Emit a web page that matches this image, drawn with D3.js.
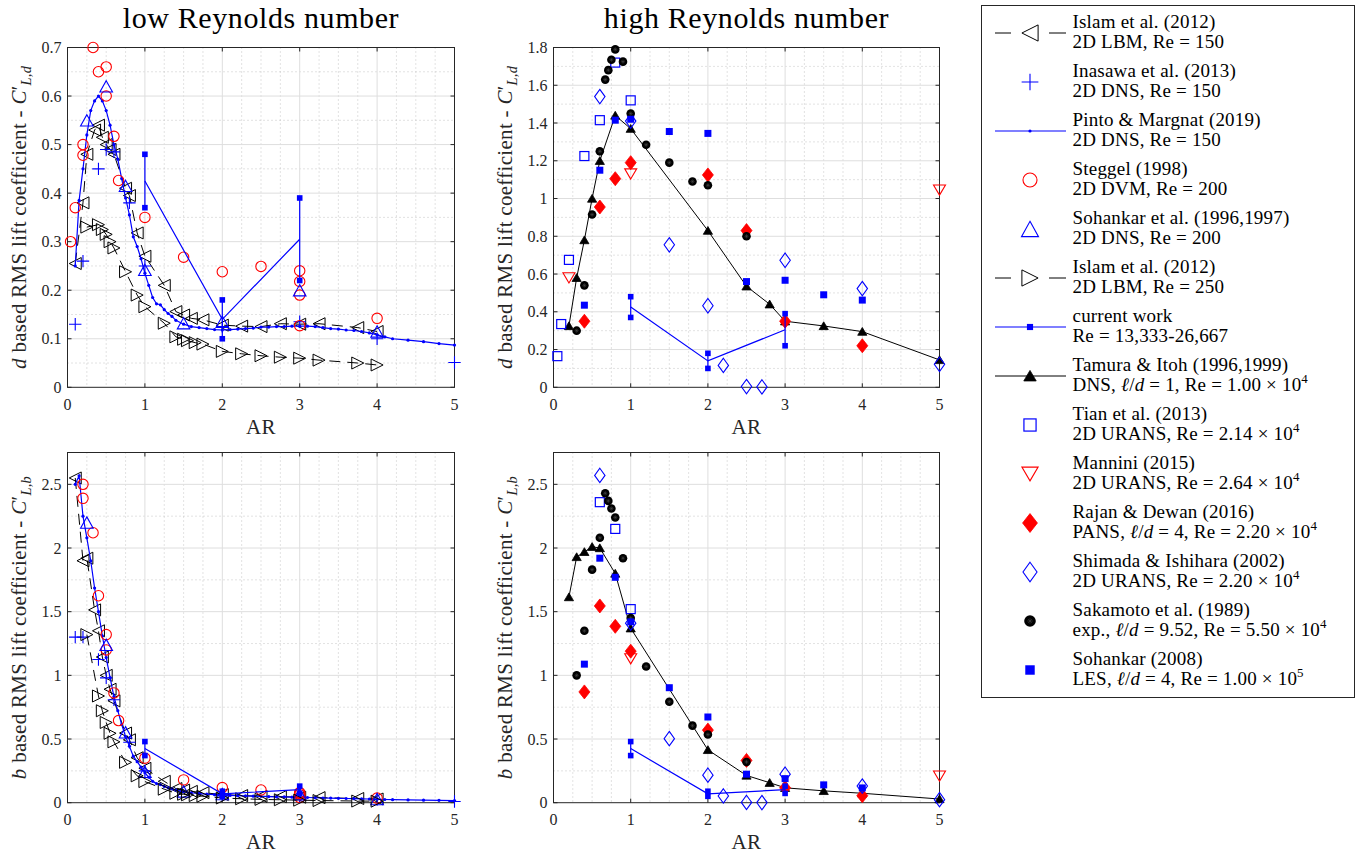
<!DOCTYPE html>
<meta charset="utf-8">
<style>
body { margin: 0; background: #fff; }
svg { font-family: "Liberation Serif", "Times New Roman", serif; }
.grid-major { stroke: #dedede; stroke-width: 1; }
.grid-minor { stroke: #b8b8b8; stroke-width: 0.8; stroke-dasharray: 1,3; }
.frame { fill: none; stroke: #262626; stroke-width: 1; }
.tick { stroke: #262626; stroke-width: 1; }
.tick-label { font-size: 16px; fill: #262626; }
.axis-label { font-size: 21px; fill: #262626; letter-spacing: 0.3px; }
.title { font-size: 30px; fill: #000; letter-spacing: 0.6px; }
.legend-text { font-size: 19px; fill: #000; letter-spacing: 0.2px; }
</style>
<body>
<svg id="chart" width="1356" height="853"></svg>

<script src="https://d3js.org/d3.v7.min.js"></script>
<script>

// ---------- low Reynolds number data (AR, C'L,d, C'L,b) ----------
var islam150AR = [0.1, 0.2, 0.25, 0.35, 0.4, 0.45, 0.5, 0.55, 0.6, 0.75, 0.8, 0.9, 1.0, 1.25, 1.4, 1.5, 1.6, 1.75, 2.0, 2.25, 2.5, 2.75, 3.0, 3.25, 3.75, 4.0];
var islam150D  = [0.255, 0.38, 0.48, 0.53, 0.54, 0.515, 0.5, 0.49, 0.48, 0.41, 0.395, 0.318, 0.27, 0.21, 0.156, 0.149, 0.142, 0.139, 0.128, 0.126, 0.125, 0.131, 0.13, 0.131, 0.123, 0.115];
var islam150B  = [2.55, 1.9, 1.92, 1.514, 1.35, 1.144, 1.0, 0.891, 0.8, 0.547, 0.494, 0.353, 0.27, 0.168, 0.111, 0.099, 0.089, 0.079, 0.064, 0.056, 0.05, 0.048, 0.043, 0.04, 0.033, 0.029];

var inasawaAR = [0.1, 0.2, 0.4, 0.5, 0.6, 0.8, 1, 2, 3, 4, 5];
var inasawaD  = [0.13, 0.26, 0.45, 0.49, 0.485, 0.38, 0.25, 0.125, 0.135, 0.1, 0.051];
var inasawaB  = [1.3, 1.3, 1.125, 0.98, 0.808, 0.475, 0.25, 0.063, 0.045, 0.025, 0.01];

var pintoAR = [0.1, 0.15, 0.2, 0.25, 0.3, 0.35, 0.4, 0.45, 0.5, 0.55, 0.6, 0.65, 0.7, 0.75, 0.8, 0.85, 0.9, 0.95, 1.0, 1.05, 1.1, 1.15, 1.2, 1.25, 1.3, 1.35, 1.4, 1.5, 1.6, 1.7, 1.8, 1.9, 2.0, 2.1, 2.2, 2.3, 2.4, 2.5, 2.6, 2.7, 2.8, 2.9, 3.0, 3.1, 3.2, 3.3, 3.4, 3.5, 3.6, 3.7, 3.8, 3.9, 4.0, 4.1, 4.2, 4.4, 4.6, 4.8, 5.0];
var pintoD  = [0.25, 0.385, 0.45, 0.52, 0.57, 0.59, 0.6, 0.59, 0.57, 0.54, 0.5, 0.47, 0.43, 0.39, 0.355, 0.31, 0.29, 0.265, 0.235, 0.21, 0.185, 0.172, 0.17, 0.16, 0.152, 0.146, 0.138, 0.13, 0.125, 0.123, 0.121, 0.119, 0.118, 0.119, 0.12, 0.121, 0.122, 0.124, 0.124, 0.125, 0.125, 0.126, 0.126, 0.126, 0.125, 0.123, 0.121, 0.12, 0.118, 0.117, 0.115, 0.112, 0.108, 0.104, 0.1, 0.097, 0.094, 0.09, 0.087];
var pintoB  = [2.5, 2.567, 2.25, 2.08, 1.9, 1.686, 1.5, 1.311, 1.14, 0.982, 0.833, 0.723, 0.614, 0.52, 0.444, 0.365, 0.322, 0.279, 0.235, 0.2, 0.168, 0.15, 0.142, 0.128, 0.117, 0.108, 0.099, 0.087, 0.078, 0.072, 0.067, 0.063, 0.059, 0.057, 0.055, 0.053, 0.051, 0.05, 0.048, 0.046, 0.045, 0.043, 0.042, 0.041, 0.039, 0.037, 0.036, 0.034, 0.033, 0.032, 0.03, 0.029, 0.027, 0.025, 0.024, 0.022, 0.02, 0.019, 0.017];

var steggelAR = [0.04, 0.1, 0.2, 0.2, 0.33, 0.4, 0.5, 0.5, 0.6, 0.66, 1, 1.5, 2, 2.5, 3, 3, 3, 3, 4];
var steggelD  = [0.3, 0.37, 0.478, 0.5, 0.7, 0.65, 0.66, 0.6, 0.517, 0.426, 0.35, 0.268, 0.238, 0.249, 0.24, 0.218, 0.19, 0.127, 0.142];
var steggelB  = [7.5, 3.7, 2.39, 2.5, 2.12, 1.625, 1.32, 1.2, 0.862, 0.645, 0.35, 0.179, 0.119, 0.1, 0.08, 0.073, 0.063, 0.042, 0.036];

var sohankar96AR = [0.25, 0.5, 0.75, 1, 1.5, 2, 3, 4];
var sohankar96D  = [0.55, 0.62, 0.415, 0.242, 0.132, 0.135, 0.2, 0.115];
var sohankar96B  = [2.2, 1.24, 0.553, 0.242, 0.088, 0.068, 0.067, 0.029];

var islam250AR = [0.25, 0.4, 0.45, 0.5, 0.55, 0.6, 0.75, 0.9, 1.0, 1.25, 1.4, 1.5, 1.55, 1.65, 1.75, 2.0, 2.25, 2.5, 2.75, 3.0, 3.25, 3.75, 4.0];
var islam250D  = [0.33, 0.335, 0.325, 0.315, 0.3, 0.287, 0.238, 0.19, 0.166, 0.132, 0.104, 0.099, 0.096, 0.092, 0.089, 0.074, 0.069, 0.065, 0.062, 0.06, 0.056, 0.05, 0.046];
var islam250B  = [1.32, 0.838, 0.722, 0.63, 0.545, 0.478, 0.317, 0.211, 0.166, 0.106, 0.074, 0.066, 0.062, 0.056, 0.051, 0.037, 0.031, 0.026, 0.023, 0.02, 0.017, 0.013, 0.012];

// current work: mean with min/max range
var currentAR  = [1, 2, 3];
var currentD   = [0.425, 0.14, 0.305];
var currentDlo = [0.37, 0.1, 0.22];
var currentDhi = [0.48, 0.18, 0.39];
var currentB   = [0.425, 0.07, 0.102];
var currentBlo = [0.37, 0.05, 0.073];
var currentBhi = [0.48, 0.09, 0.13];

// ---------- high Reynolds number data ----------
var tamuraAR = [0.2, 0.3, 0.4, 0.5, 0.6, 0.8, 1.0, 2.0, 2.5, 2.8, 3.0, 3.5, 4.0, 5.0];
var tamuraD  = [0.325, 0.58, 0.78, 1.0, 1.2, 1.44, 1.37, 0.83, 0.535, 0.44, 0.35, 0.325, 0.295, 0.145];
var tamuraB  = [1.615, 1.93, 1.97, 2.01, 2.0, 1.8, 1.37, 0.415, 0.214, 0.157, 0.117, 0.093, 0.074, 0.029];

var tianAR = [0.05, 0.1, 0.2, 0.4, 0.6, 0.8, 1.0];
var tianD  = [0.165, 0.335, 0.675, 1.225, 1.415, 1.72, 1.52];
var tianB  = [3.3, 3.35, 3.375, 3.06, 2.36, 2.15, 1.52];

var manniniAR = [0.2, 1.0, 5.0];
var manniniD  = [0.58, 1.13, 1.045];
var manniniB  = [2.9, 1.13, 0.209];

var rajanAR = [0.4, 0.6, 0.8, 1.0, 2.0, 2.5, 3.0, 4.0];
var rajanD  = [0.35, 0.955, 1.105, 1.19, 1.125, 0.83, 0.35, 0.22];
var rajanB  = [0.87, 1.545, 1.385, 1.19, 0.57, 0.332, 0.117, 0.055];

var shimadaAR = [0.6, 1.0, 1.5, 2.0, 2.2, 2.5, 2.7, 3.0, 4.0, 5.0];
var shimadaD  = [1.54, 1.41, 0.755, 0.432, 0.116, 0.004, 0.002, 0.673, 0.523, 0.122];
var shimadaB  = [2.57, 1.41, 0.503, 0.216, 0.053, 0.002, 0.001, 0.224, 0.131, 0.024];

var sakamotoAR = [0.3, 0.4, 0.5, 0.6, 0.67, 0.71, 0.75, 0.8, 0.9, 1.0, 1.2, 1.5, 1.8, 2.0, 2.5];
var sakamotoD  = [0.3, 0.54, 0.915, 1.25, 1.63, 1.68, 1.735, 1.79, 1.725, 1.45, 1.285, 1.19, 1.09, 1.07, 0.8];
var sakamotoB  = [1.0, 1.35, 1.83, 2.08, 2.43, 2.37, 2.31, 2.24, 1.92, 1.45, 1.07, 0.793, 0.605, 0.535, 0.32];

var sohankar08AR = [0.4, 0.6, 0.8, 1.0, 1.5, 2.0, 2.5, 3.0, 3.5, 4.0];
var sohankar08D  = [0.435, 1.15, 1.415, 1.42, 1.355, 1.345, 0.56, 0.567, 0.49, 0.462];
var sohankar08B  = [1.088, 1.92, 1.77, 1.42, 0.903, 0.673, 0.224, 0.189, 0.14, 0.116];

// ---------- legend text ----------
var legendTitles = [
  "Islam et al. (2012)", "Inasawa et al. (2013)", "Pinto & Margnat (2019)", "Steggel (1998)",
  "Sohankar et al. (1996,1997)", "Islam et al. (2012)", "current work", "Tamura & Itoh (1996,1999)",
  "Tian et al. (2013)", "Mannini (2015)", "Rajan & Dewan (2016)", "Shimada & Ishihara (2002)",
  "Sakamoto et al. (1989)", "Sohankar (2008)"
];
var legendDetails = [
  "2D LBM, Re = 150", "2D DNS, Re = 150", "2D DNS, Re = 150", "2D DVM, Re = 200",
  "2D DNS, Re = 200", "2D LBM, Re = 250", "Re = 13,333-26,667",
  "DNS, *ℓ*/*d* = 1, Re = 1.00 × 10^4^", "2D URANS, Re = 2.14 × 10^4^", "2D URANS, Re = 2.64 × 10^4^",
  "PANS, *ℓ*/*d* = 4, Re = 2.20 × 10^4^", "2D URANS, Re = 2.20 × 10^4^",
  "exp., *ℓ*/*d* = 9.52, Re = 5.50 × 10^4^", "LES, *ℓ*/*d* = 4, Re = 1.00 × 10^5^"
];

// ---------- series styles ----------
var lowSeries = [
  {ar: islam150AR, d: islam150D, b: islam150B, color: "#000", line: "dash", marker: "ltri"},
  {ar: inasawaAR, d: inasawaD, b: inasawaB, color: "#00f", line: null, marker: "plus"},
  {ar: pintoAR, d: pintoD, b: pintoB, color: "#00f", line: "solid", marker: "dot"},
  {ar: steggelAR, d: steggelD, b: steggelB, color: "#f00", line: null, marker: "circle"},
  {ar: sohankar96AR, d: sohankar96D, b: sohankar96B, color: "#00f", line: null, marker: "utri"},
  {ar: islam250AR, d: islam250D, b: islam250B, color: "#000", line: "dash", marker: "rtri"}
];
var highSeries = [
  {ar: tamuraAR, d: tamuraD, b: tamuraB, color: "#000", line: "solid", marker: "ftri"},
  {ar: tianAR, d: tianD, b: tianB, color: "#00f", line: null, marker: "osq"},
  {ar: manniniAR, d: manniniD, b: manniniB, color: "#f00", line: null, marker: "dtri"},
  {ar: rajanAR, d: rajanD, b: rajanB, color: "#f00", line: null, marker: "fdia"},
  {ar: shimadaAR, d: shimadaD, b: shimadaB, color: "#00f", line: null, marker: "odia"},
  {ar: sakamotoAR, d: sakamotoD, b: sakamotoB, color: "#000", line: null, marker: "saka"},
  {ar: sohankar08AR, d: sohankar08D, b: sohankar08B, color: "#00f", line: null, marker: "fsq"}
];
var current = {ar: currentAR, d: currentD, dlo: currentDlo, dhi: currentDhi, b: currentB, blo: currentBlo, bhi: currentBhi};

var legendStyles = [
  {color: "#000", line: "dash", marker: "ltri"},
  {color: "#00f", line: null, marker: "plus"},
  {color: "#00f", line: "solid", marker: "dot"},
  {color: "#f00", line: null, marker: "circle"},
  {color: "#00f", line: null, marker: "utri"},
  {color: "#000", line: "dash", marker: "rtri"},
  {color: "#00f", line: "solid", marker: "csq"},
  {color: "#000", line: "solid", marker: "ftri"},
  {color: "#00f", line: null, marker: "osq"},
  {color: "#f00", line: null, marker: "dtri"},
  {color: "#f00", line: null, marker: "fdia"},
  {color: "#00f", line: null, marker: "odia"},
  {color: "#000", line: null, marker: "saka"},
  {color: "#00f", line: null, marker: "fsq"}
];

var panels = [
  {key: "d", series: lowSeries, left: 67.5, right: 454.5, top: 47.5, bottom: 387.3, ymax: 0.7, ystep: 0.1, title: "low Reynolds number"},
  {key: "d", series: highSeries, left: 553.5, right: 939.5, top: 47.5, bottom: 387.3, ymax: 1.8, ystep: 0.2, title: "high Reynolds number"},
  {key: "b", series: lowSeries, left: 67.5, right: 454.5, top: 452.5, bottom: 802.7, ymax: 2.75, ystep: 0.5},
  {key: "b", series: highSeries, left: 553.5, right: 939.5, top: 452.5, bottom: 802.7, ymax: 2.75, ystep: 0.5}
];

var svg = d3.select("#chart");

function poly(pts) {
  return "M" + pts.map(function(p) { return p[0] + "," + p[1]; }).join("L") + "Z";
}

function drawMarker(g, type, color, x, y, k) {
  var s;
  switch (type) {
    case "ltri":
      s = 6 * k;
      g.append("path").attr("d", poly([[x - s, y], [x + s, y - s], [x + s, y + s]]))
        .attr("fill", "none").attr("stroke", color).attr("stroke-width", 1);
      break;
    case "rtri":
      s = 6 * k;
      g.append("path").attr("d", poly([[x + s, y], [x - s, y - s], [x - s, y + s]]))
        .attr("fill", "none").attr("stroke", color).attr("stroke-width", 1);
      break;
    case "utri":
      s = 6.3 * k;
      g.append("path").attr("d", poly([[x, y - s * 0.9], [x + s, y + s * 0.9], [x - s, y + s * 0.9]]))
        .attr("fill", "none").attr("stroke", color).attr("stroke-width", 1.1);
      break;
    case "dtri":
      s = 6 * k;
      g.append("path").attr("d", poly([[x, y + s * 0.85], [x + s, y - s * 0.85], [x - s, y - s * 0.85]]))
        .attr("fill", "none").attr("stroke", color).attr("stroke-width", 1.1);
      break;
    case "ftri":
      s = 4.6 * k;
      g.append("path").attr("d", poly([[x, y - s * 0.9], [x + s, y + s * 0.8], [x - s, y + s * 0.8]]))
        .attr("fill", color).attr("stroke", color).attr("stroke-width", 0.8);
      break;
    case "plus":
      s = 6.2 * k;
      g.append("path").attr("d", "M" + (x - s) + "," + y + "H" + (x + s) + "M" + x + "," + (y - s) + "V" + (y + s))
        .attr("fill", "none").attr("stroke", color).attr("stroke-width", 1.1);
      break;
    case "dot":
      g.append("circle").attr("cx", x).attr("cy", y).attr("r", 1.6 * k).attr("fill", color);
      break;
    case "circle":
      g.append("circle").attr("cx", x).attr("cy", y).attr("r", 5.2 * k)
        .attr("fill", "none").attr("stroke", color).attr("stroke-width", 1.1);
      break;
    case "osq":
      s = 4.5 * k;
      g.append("rect").attr("x", x - s).attr("y", y - s).attr("width", 2 * s).attr("height", 2 * s)
        .attr("fill", "none").attr("stroke", color).attr("stroke-width", 1.2);
      break;
    case "fsq":
      s = 3.5 * k;
      g.append("rect").attr("x", x - s).attr("y", y - s).attr("width", 2 * s).attr("height", 2 * s)
        .attr("fill", color);
      break;
    case "csq":
      s = 2.8 * k;
      g.append("rect").attr("x", x - s).attr("y", y - s).attr("width", 2 * s).attr("height", 2 * s)
        .attr("fill", color);
      break;
    case "fdia":
      g.append("path").attr("d", poly([[x, y - 7 * k], [x + 5.5 * k, y], [x, y + 7 * k], [x - 5.5 * k, y]]))
        .attr("fill", color).attr("stroke", color).attr("stroke-width", 0.8);
      break;
    case "odia":
      g.append("path").attr("d", poly([[x, y - 7.2 * k], [x + 5.2 * k, y], [x, y + 7.2 * k], [x - 5.2 * k, y]]))
        .attr("fill", "none").attr("stroke", color).attr("stroke-width", 1.1);
      break;
    case "saka":
      s = 4.3 * k;
      g.append("circle").attr("cx", x).attr("cy", y).attr("r", s).attr("fill", "#000");
      var a = s * 0.5;
      g.append("path")
        .attr("d", "M" + (x - a) + "," + y + "H" + (x + a) + "M" + x + "," + (y - a) + "V" + (y + a) +
          "M" + (x - a * 0.7) + "," + (y - a * 0.7) + "L" + (x + a * 0.7) + "," + (y + a * 0.7) +
          "M" + (x - a * 0.7) + "," + (y + a * 0.7) + "L" + (x + a * 0.7) + "," + (y - a * 0.7))
        .attr("stroke", "#4a4a4a").attr("stroke-width", 0.5);
      break;
  }
}

// text with *italic*, ^superscript^ and _subscript_ markup; fs = font size in px
function richText(sel, str, fs) {
  var parts = str.split(/(\*[^*]+\*|\^[^^]+\^|_[^_]+_)/);
  var shift = 0;
  parts.forEach(function(p) {
    if (!p) return;
    var target = 0, txt = p, small = false, ital = false;
    if (p[0] === "*") { ital = true; txt = p.slice(1, -1); }
    else if (p[0] === "^") { target = -0.42; small = true; txt = p.slice(1, -1); }
    else if (p[0] === "_") { target = 0.28; small = true; ital = true; txt = p.slice(1, -1); }
    var t = sel.append("tspan").text(txt);
    if (target !== shift) t.attr("dy", ((target - shift) * fs) + "px");
    shift = target;
    if (small) t.style("font-size", (fs * 0.68) + "px");
    if (ital) t.style("font-style", "italic");
  });
}

function fmt(v) { return String(+v.toFixed(2)); }

panels.forEach(function(p, pi) {
  var x = d3.scaleLinear().domain([0, 5]).range([p.left, p.right]);
  var y = d3.scaleLinear().domain([0, p.ymax]).range([p.bottom, p.top]);
  var g = svg.append("g");

  svg.append("clipPath").attr("id", "clip" + pi).append("rect")
    .attr("x", p.left).attr("y", p.top).attr("width", p.right - p.left).attr("height", p.bottom - p.top);

  var nMajor = Math.floor(p.ymax / p.ystep + 1e-6);
  var yMajor = d3.range(0, nMajor + 1).map(function(i) { return i * p.ystep; });
  var yMinor = d3.range(0, nMajor + 1).map(function(i) { return (i + 0.5) * p.ystep; })
    .filter(function(v) { return v < p.ymax - 1e-6; });
  var xMajor = d3.range(0, 6);
  var xMinor = d3.range(0, 20).map(function(i) { return i * 0.25; })
    .filter(function(v) { return v % 1 !== 0; });

  // grid
  g.selectAll(".xmin").data(xMinor).enter().append("line").attr("class", "grid-minor")
    .attr("x1", x).attr("x2", x).attr("y1", p.top).attr("y2", p.bottom);
  g.selectAll(".ymin").data(yMinor).enter().append("line").attr("class", "grid-minor")
    .attr("y1", y).attr("y2", y).attr("x1", p.left).attr("x2", p.right);
  g.selectAll(".xmaj").data(xMajor.slice(1, -1)).enter().append("line").attr("class", "grid-major")
    .attr("x1", x).attr("x2", x).attr("y1", p.top).attr("y2", p.bottom);
  g.selectAll(".ymaj").data(yMajor.filter(function(v) { return v > 0 && v < p.ymax - 1e-6; })).enter()
    .append("line").attr("class", "grid-major")
    .attr("y1", y).attr("y2", y).attr("x1", p.left).attr("x2", p.right);

  // frame and inward ticks
  g.append("rect").attr("class", "frame")
    .attr("x", p.left).attr("y", p.top).attr("width", p.right - p.left).attr("height", p.bottom - p.top);
  xMajor.forEach(function(v) {
    g.append("line").attr("class", "tick").attr("x1", x(v)).attr("x2", x(v)).attr("y1", p.bottom).attr("y2", p.bottom - 4);
    g.append("line").attr("class", "tick").attr("x1", x(v)).attr("x2", x(v)).attr("y1", p.top).attr("y2", p.top + 4);
    g.append("text").attr("class", "tick-label").attr("x", x(v)).attr("y", p.bottom + 17)
      .attr("text-anchor", "middle").attr("dy", "0.35em").text(fmt(v));
  });
  yMajor.forEach(function(v) {
    g.append("line").attr("class", "tick").attr("y1", y(v)).attr("y2", y(v)).attr("x1", p.left).attr("x2", p.left + 4);
    g.append("line").attr("class", "tick").attr("y1", y(v)).attr("y2", y(v)).attr("x1", p.right).attr("x2", p.right - 4);
    g.append("text").attr("class", "tick-label").attr("x", p.left - 6).attr("y", y(v))
      .attr("text-anchor", "end").attr("dy", "0.35em").text(fmt(v));
  });

  // labels
  g.append("text").attr("class", "axis-label").attr("x", (p.left + p.right) / 2).attr("y", p.bottom + 39)
    .attr("text-anchor", "middle").attr("dy", "0.35em").text("AR");
  var yl = g.append("text").attr("class", "axis-label").attr("text-anchor", "middle")
    .attr("transform", "translate(" + (p.left - 42) + "," + ((p.top + p.bottom) / 2) + ") rotate(-90)");
  richText(yl, "*" + p.key + "* based RMS lift coefficient - *C*\u2032_L," + p.key + "_", 21);
  if (p.title) {
    g.append("text").attr("class", "title").attr("x", (p.left + p.right) / 2).attr("y", 28)
      .attr("text-anchor", "middle").text(p.title);
  }

  // data
  var dg = svg.append("g");
  var inside = function(a, v) { return a >= -1e-9 && a <= 5 + 1e-9 && v >= -1e-9 && v <= p.ymax + 1e-9; };

  p.series.forEach(function(s) {
    var vals = s[p.key];
    var pts = s.ar.map(function(a, i) { return [a, vals[i]]; });
    if (s.line) {
      dg.append("path")
        .attr("clip-path", "url(#clip" + pi + ")")
        .attr("d", d3.line().x(function(d) { return x(d[0]); }).y(function(d) { return y(d[1]); })(pts))
        .attr("fill", "none").attr("stroke", s.color)
        .attr("stroke-width", s.color === "#00f" ? 1.2 : 1)
        .attr("stroke-dasharray", s.line === "dash" ? "11,7" : null);
    }
    pts.forEach(function(d) {
      if (inside(d[0], d[1])) drawMarker(dg, s.marker, s.color, x(d[0]), y(d[1]), 1);
    });
  });

  // current work: mean line with min/max bars
  var cm = current[p.key], clo = current[p.key + "lo"], chi = current[p.key + "hi"];
  dg.append("path")
    .attr("d", d3.line().x(function(d, i) { return x(current.ar[i]); }).y(function(d) { return y(d); })(cm))
    .attr("fill", "none").attr("stroke", "#00f").attr("stroke-width", 1.2);
  current.ar.forEach(function(a, i) {
    dg.append("line").attr("x1", x(a)).attr("x2", x(a)).attr("y1", y(clo[i])).attr("y2", y(chi[i]))
      .attr("stroke", "#00f").attr("stroke-width", 1.2);
    drawMarker(dg, "csq", "#00f", x(a), y(clo[i]), 1);
    drawMarker(dg, "csq", "#00f", x(a), y(chi[i]), 1);
  });
});

// legend
var lg = svg.append("g");
lg.append("rect").attr("x", 981.5).attr("y", 5.5).attr("width", 373).attr("height", 692)
  .attr("fill", "#fff").attr("stroke", "#262626").attr("stroke-width", 1);

legendTitles.forEach(function(t, i) {
  var cy = 33 + 49 * i;
  var st = legendStyles[i];
  if (st.line === "dash") {
    lg.append("line").attr("x1", 995).attr("x2", 1011).attr("y1", cy).attr("y2", cy).attr("stroke", st.color);
    lg.append("line").attr("x1", 1049).attr("x2", 1066).attr("y1", cy).attr("y2", cy).attr("stroke", st.color);
  } else if (st.line === "solid") {
    lg.append("line").attr("x1", 995).attr("x2", 1066).attr("y1", cy).attr("y2", cy)
      .attr("stroke", st.color).attr("stroke-width", st.color === "#00f" ? 1.2 : 1);
  }
  var k = (st.marker === "dot") ? 1 : (st.marker === "csq" ? 1.1 : 1.35);
  drawMarker(lg, st.marker, st.color, 1030, cy, k);
  lg.append("text").attr("class", "legend-text").attr("x", 1072.5).attr("y", cy - 5.5).text(t);
  richText(lg.append("text").attr("class", "legend-text").attr("x", 1072.5).attr("y", cy + 15.3), legendDetails[i], 19);
});

</script>
</body>
